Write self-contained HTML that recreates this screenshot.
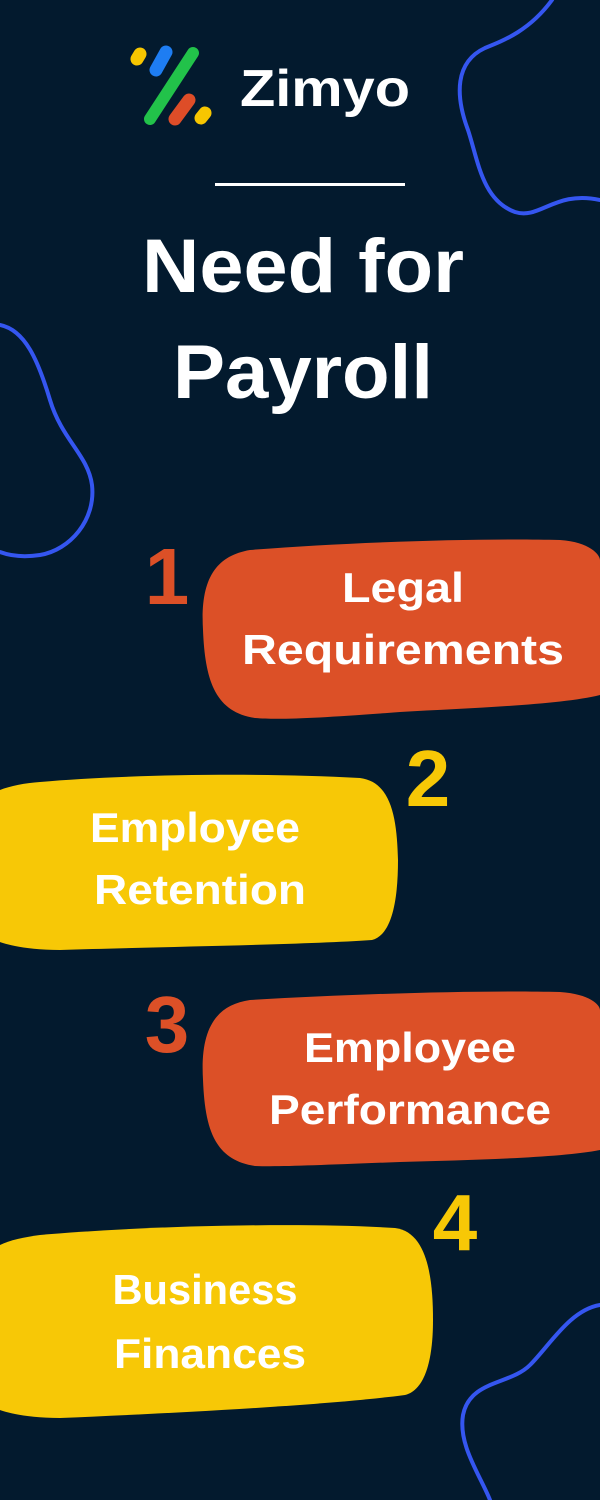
<!DOCTYPE html>
<html><head><meta charset="utf-8"><style>
html,body{margin:0;padding:0;background:#031a2e;}
svg{display:block}
text{font-family:"Liberation Sans",sans-serif;font-weight:bold;}
</style></head><body>
<svg width="600" height="1500" viewBox="0 0 600 1500" xmlns="http://www.w3.org/2000/svg">
<rect width="600" height="1500" fill="#031a2e"/>
<g fill="none" stroke="#3556f0" stroke-width="4" stroke-linecap="round">
<path d="M552,0 C530,30 505,40 485,48 C455,62 455,95 468,130 C478,160 482,200 515,212 C540,220 555,190 600,200"/>
<path d="M0,325 C25,330 38,360 50,400 C62,440 88,455 92,485 C96,520 70,550 40,555 C20,558 8,555 0,552"/>
<path d="M600,1305 C570,1310 550,1345 530,1365 C510,1385 470,1380 463,1415 C458,1445 480,1475 490,1500"/>
</g>
<g stroke-linecap="round">
<line x1="140" y1="54" x2="137" y2="59" stroke="#f7c600" stroke-width="13"/>
<line x1="166" y1="52" x2="156" y2="70" stroke="#1e7df2" stroke-width="13"/>
<line x1="193" y1="53" x2="150" y2="119" stroke="#22c24a" stroke-width="12"/>
<line x1="189" y1="100" x2="175" y2="119" stroke="#de4d28" stroke-width="13"/>
<line x1="205" y1="113" x2="201" y2="118" stroke="#f7c600" stroke-width="13"/>
</g>
<text x="240" y="106" font-size="52" fill="#fff" textLength="170" lengthAdjust="spacingAndGlyphs">Zimyo</text>
<rect x="215" y="183" width="190" height="3" fill="#fff"/>
<text x="303" y="292" font-size="76" fill="#fff" text-anchor="middle" textLength="322" lengthAdjust="spacingAndGlyphs">Need for</text>
<text x="303" y="398" font-size="76" fill="#fff" text-anchor="middle" textLength="260" lengthAdjust="spacingAndGlyphs">Payroll</text>
<path d="M250,550 C350,542 480,538 560,540 C590,542 600,555 600,560 L600,695 C560,705 470,708 400,712 C320,718 280,720 255,718 C215,712 205,680 203,630 C200,580 215,556 250,550 Z" fill="#dc5027"/>
<path d="M40,782 C120,775 250,772 360,778 C392,782 397,820 398,860 C398,900 392,935 372,940 C300,945 150,947 60,950 C20,950 0,942 0,942 L0,790 C10,786 25,783 40,782 Z" fill="#f7c806"/>
<path d="M250,1000 C350,994 480,990 560,992 C590,994 600,1005 600,1010 L600,1150 C560,1158 470,1160 400,1162 C320,1165 280,1167 255,1166 C215,1160 205,1130 203,1080 C200,1030 215,1005 250,1000 Z" fill="#dc5027"/>
<path d="M40,1235 C140,1226 300,1222 395,1228 C428,1232 433,1280 433,1320 C433,1360 425,1390 405,1395 C330,1405 180,1413 60,1418 C20,1418 0,1410 0,1410 L0,1245 C10,1240 25,1237 40,1235 Z" fill="#f7c806"/>
<text x="167" y="604" font-size="80" fill="#dc5027" text-anchor="middle">1</text>
<text x="428" y="806" font-size="80" fill="#f7c806" text-anchor="middle">2</text>
<text x="167" y="1052" font-size="80" fill="#dc5027" text-anchor="middle">3</text>
<text x="455" y="1250" font-size="80" fill="#f7c806" text-anchor="middle">4</text>
<g fill="#fff" font-size="42" text-anchor="middle">
<text x="403" y="602" textLength="122" lengthAdjust="spacingAndGlyphs">Legal</text>
<text x="403" y="664" textLength="322" lengthAdjust="spacingAndGlyphs">Requirements</text>
<text x="195" y="842" textLength="210" lengthAdjust="spacingAndGlyphs">Employee</text>
<text x="200" y="904" textLength="212" lengthAdjust="spacingAndGlyphs">Retention</text>
<text x="410" y="1062" textLength="212" lengthAdjust="spacingAndGlyphs">Employee</text>
<text x="410" y="1124" textLength="282" lengthAdjust="spacingAndGlyphs">Performance</text>
<text x="205" y="1304" textLength="185" lengthAdjust="spacingAndGlyphs">Business</text>
<text x="210" y="1368" textLength="192" lengthAdjust="spacingAndGlyphs">Finances</text>
</g>
</svg>
</body></html>
